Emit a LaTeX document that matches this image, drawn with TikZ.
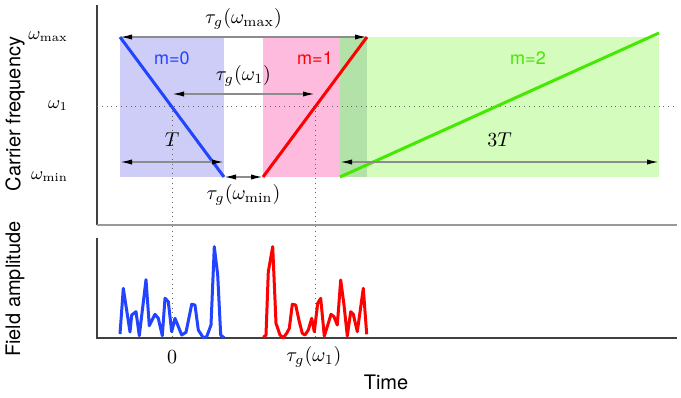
\documentclass[tikz,border=0pt]{standalone}
\usepackage{amsmath}
\usepackage{fontspec}
\setsansfont{TeX Gyre Heros}
\usepackage{tikz}
\usetikzlibrary{arrows.meta}

\definecolor{wblue}{RGB}{34,68,255}
\definecolor{wred}{RGB}{255,0,0}
\definecolor{wgreen}{RGB}{68,232,0}
\definecolor{fblue}{RGB}{205,205,248}
\definecolor{fpink}{RGB}{255,187,222}
\definecolor{fgreen}{RGB}{212,252,188}
\definecolor{fdgreen}{RGB}{178,226,168}

\begin{document}
\begin{tikzpicture}[x=0.5pt, y=-0.5pt,
  dimarrow/.style={draw=black!45, line width=0.7pt, {Latex[black,length=6pt,width=2.6pt]}-{Latex[black,length=6pt,width=2.6pt]}},
  guide/.style={dotted, black!60, line width=0.4pt},
  axis/.style={draw=black!75, line width=0.6pt},
  sweep/.style={line width=1.5pt, line join=round},
  mlabel/.style={font=\sffamily\small},
  wtick/.style={anchor=east, font=\small},]
\useasboundingbox (0,0) rectangle (681,397);
% shaded bands
\fill[fblue] (120,37) rectangle (224,177);
\fill[fpink] (263,37) rectangle (340,177);
\fill[fdgreen] (340,37) rectangle (367,177);
\fill[fgreen] (367,37) rectangle (659,177);
% axes
\draw[axis] (97,5)--(97,225);
\draw[draw=black!40, line width=0.9pt] (97,225)--(677,225);
\draw[axis] (97,238)--(97,338)--(677,338);
\draw[guide] (97,106)--(677,106);
\draw[guide] (172,106)--(172,338);
\draw[guide] (315,106)--(315,338);
% chirps
\coordinate (b0) at (120,37);
\coordinate (b1) at (224,177);
\coordinate (r0) at (263,177);
\coordinate (r1) at (367,37);
\coordinate (g0) at (340,177);
\coordinate (g1) at (659,33);
\draw[sweep, wblue] (b0)--(b1);
\draw[sweep, wred] (r0)--(r1);
\draw[sweep, wgreen] (g0)--(g1);
\node[mlabel, text=wblue] (m0) at (172,58) {m=0};
\node[mlabel, text=wred] (m1) at (315,58) {m=1};
\node[mlabel, text=wgreen] (m2) at (528,58) {m=2};
% delays
\coordinate (a1) at (120,37);
\coordinate (a2) at (367,37);
\coordinate (a3) at (172,94);
\coordinate (a4) at (315,94);
\coordinate (a5) at (120,162);
\coordinate (a6) at (224,162);
\coordinate (a7) at (224,177);
\coordinate (a8) at (263,177);
\coordinate (a9) at (340,162);
\coordinate (a10) at (659,162);
\draw[dimarrow] (a1)--(a2) node[midway, above] (tmax) {$\tau_g(\omega_{\max})$};
\draw[dimarrow] (a3)--(a4) node[midway, above] (tone) {$\tau_g(\omega_1)$};
\draw[dimarrow] (a5)--(a6) node[midway, above=4pt] (per) {$T$};
\draw[dimarrow] (a7)--(a8) node[midway, below] (tmin) {$\tau_g(\omega_{\min})$};
\draw[dimarrow] (a9)--(a10) node[midway, above=4pt] (per3) {$3T$};
% frequency ticks
\node[wtick] (w0) at (75,37) {$\omega_{\max}$};
\node[wtick] (w1) at (75,106) {$\omega_1$};
\node[wtick] (w2) at (75,177) {$\omega_{\min}$};
% field amplitude
\draw[sweep, wblue] plot coordinates {(120,334) (123.3,288.3) (130,332) (131.7,315) (136,311.7) (139.3,335.7) (146,279.7) (149.3,325.7) (155,314.3) (158.3,318.3) (162.3,335.7) (165,298.3) (168.3,301.7) (171.7,331.7) (175,318.3) (181.7,335) (186,332.3) (191.7,304.3) (195,305) (198.3,330) (203.3,337.7) (206.7,336.7) (211,325) (214.3,246.7) (217.7,275) (220.7,335) (224,337.7)};
\draw[sweep, wred] plot coordinates {(263.3,337.3) (266,335) (268.3,271.7) (272.7,246.7) (276,323.3) (280,335) (283.3,337.7) (286.7,333.3) (289.3,328.3) (292.3,304.3) (295.7,305) (299.3,321.7) (302.3,333.3) (305,335) (308.3,330) (311.7,318.3) (314.3,331.7) (317.7,303.3) (320.7,298.3) (324.3,336) (328.3,323.3) (331,314.3) (334,316.7) (337.3,325) (340.7,280) (344,305) (347.3,336) (350.7,311.7) (353.3,314.3) (357.3,331.7) (363.3,288.3) (366.7,334.3)};
\node (t0) at (172,357) {$0$};
\node (t1) at (314,357) {$\tau_g(\omega_1)$};
% axis titles
\node[font=\sffamily, rotate=90] (yl1) at (15,114) {Carrier frequency};
\node[font=\sffamily, rotate=90] (yl2) at (15,289) {Field amplitude};
\node[font=\sffamily] (xl) at (386,382) {Time};
\end{tikzpicture}
\end{document}
